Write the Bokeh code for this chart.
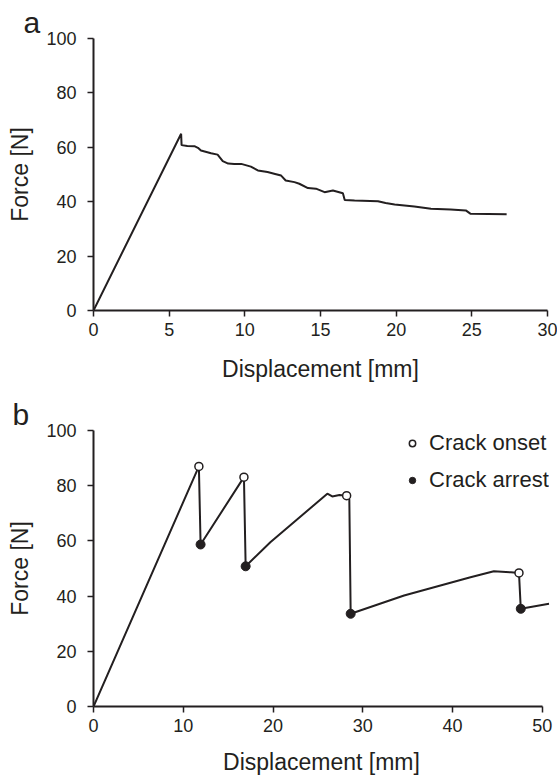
from bokeh.plotting import figure
from bokeh.models import Range1d, FixedTicker, Legend, LegendItem, Title
from bokeh.layouts import column
from bokeh.embed import file_html
from bokeh.resources import INLINE

# ---- Panel a data ----
a_disp = [0, 5.79, 5.82, 6.2, 6.67, 6.9, 7.1, 7.77, 8.2, 8.54, 8.9, 9.3, 9.76, 10.4, 10.86,
          11.5, 12.0, 12.4, 12.7, 13.28, 13.6, 14.17, 14.7, 15.27, 15.82, 16.48, 16.6, 17.25,
          18.8, 19.3, 19.9, 21.2, 22.3, 23.6, 24.6, 24.9, 27.3]
a_force = [0, 65.0, 60.8, 60.5, 60.4, 59.8, 58.8, 57.8, 57.3, 54.9, 54.0, 53.9, 53.9, 52.9, 51.5,
           50.9, 50.2, 49.6, 47.8, 47.2, 46.6, 45.0, 44.8, 43.5, 44.1, 43.1, 40.6, 40.4,
           40.2, 39.5, 39.0, 38.2, 37.4, 37.1, 36.8, 35.6, 35.4]

# ---- Panel b data ----
b_disp = [0, 11.74, 11.93, 16.76, 16.95, 19.7, 26.05, 26.6, 27.4, 28.2, 28.5, 28.65, 34.6,
          42.0, 44.6, 46.5, 47.4, 47.6, 50.75]
b_force = [0, 87.0, 58.7, 83.1, 50.8, 59.5, 77.1, 76.1, 76.6, 76.4, 75.0, 33.6, 40.2,
           46.8, 49.0, 48.6, 48.4, 35.4, 37.2]
onset_disp = [11.74, 16.76, 28.2, 47.4]
onset_force = [87.0, 83.1, 76.4, 48.4]
arrest_disp = [11.93, 16.95, 28.65, 47.6]
arrest_force = [58.7, 50.8, 33.6, 35.4]

a_xticks = [0, 5, 10, 15, 20, 25, 30]
b_xticks = [0, 10, 20, 30, 40, 50]
yticks = [0, 20, 40, 60, 80, 100]

FONT = "Liberation Sans"
TXT = "#231f20"
LINE = "#231f20"


def style(p, xticks, title_standoff):
    p.grid.visible = False
    p.outline_line_color = None
    p.background_fill_color = "white"
    p.border_fill_color = "white"
    for ax in (p.xaxis[0], p.yaxis[0]):
        ax.axis_line_width = 2
        ax.axis_line_color = LINE
        ax.major_tick_line_color = LINE
        ax.major_tick_line_width = 1.5
        ax.major_tick_in = 0
        ax.major_tick_out = 6
        ax.minor_tick_line_color = None
        ax.major_label_text_font = FONT
        ax.major_label_text_font_size = "18px"
        ax.major_label_text_color = TXT
        ax.axis_label_text_font = FONT
        ax.axis_label_text_font_size = "23px"
        ax.axis_label_text_font_style = "normal"
        ax.axis_label_text_color = TXT
    p.xaxis[0].ticker = FixedTicker(ticks=xticks)
    p.yaxis[0].ticker = FixedTicker(ticks=yticks)
    p.xaxis[0].major_label_standoff = 6
    p.yaxis[0].major_label_standoff = 11
    p.xaxis[0].axis_label_standoff = title_standoff
    p.yaxis[0].axis_label_standoff = 10
    p.xaxis[0].axis_label = "Displacement [mm]"
    p.yaxis[0].axis_label = "Force [N]"


def panel_title(text, offset):
    return Title(text=text, align="left", offset=offset, standoff=0,
                 text_font=FONT, text_font_size="30px", text_font_style="normal",
                 text_color=TXT)


# ---- Panel a ----
pa = figure(frame_width=454, frame_height=272, x_range=Range1d(0, 30), y_range=Range1d(0, 100),
            min_border_left=93, min_border_right=10, min_border_top=38, min_border_bottom=75,
            output_backend="svg", toolbar_location=None, title=None)
style(pa, a_xticks, 17)
pa.add_layout(panel_title("a", -70), "above")
pa.line(a_disp, a_force, line_color=LINE, line_width=2)

# ---- Panel b ----
pb = figure(frame_width=456, frame_height=276, x_range=Range1d(0, 50.8), y_range=Range1d(0, 100),
            min_border_left=93, min_border_right=8, min_border_top=45, min_border_bottom=72,
            output_backend="svg", toolbar_location=None, title=None)
style(pb, b_xticks, 14)
pb.xaxis[0].bounds = (0, 50)
pb.add_layout(panel_title("b", -81), "above")
pb.line(b_disp, b_force, line_color=LINE, line_width=2)
r_on = pb.scatter(onset_disp, onset_force, marker="circle", size=8, fill_color="white",
                  line_color=LINE, line_width=1.5)
r_ar = pb.scatter(arrest_disp, arrest_force, marker="circle", size=9, fill_color=LINE,
                  line_color=LINE)
leg = Legend(items=[LegendItem(label="Crack onset", renderers=[r_on]),
                    LegendItem(label="Crack arrest", renderers=[r_ar])],
             location=(311, 213), padding=0, margin=0, border_line_color=None,
             background_fill_alpha=0, glyph_width=16, glyph_height=20, label_height=20,
             spacing=11, label_standoff=9, label_text_font=FONT, label_text_font_size="22px",
             label_text_color=TXT)
pb.add_layout(leg)

layout = column(pa, pb)
open("out.html", "w").write(file_html(layout, INLINE))
